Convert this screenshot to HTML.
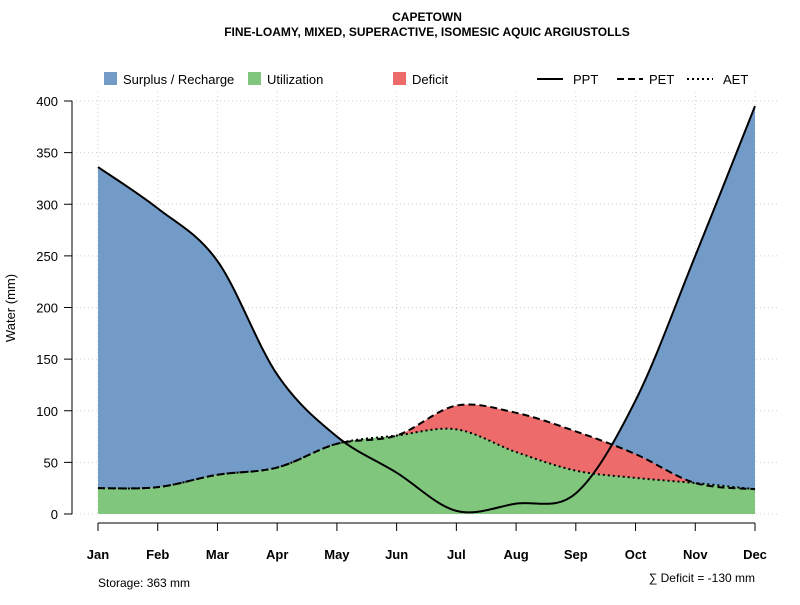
<!DOCTYPE html>
<html><head><meta charset="utf-8"><style>
body{margin:0;background:#fff;font-family:"Liberation Sans",sans-serif;}
svg text{font-family:"Liberation Sans",sans-serif;}
</style></head><body>
<svg id="c" width="800" height="600" xmlns="http://www.w3.org/2000/svg">
<text x="427" y="21" text-anchor="middle" font-size="12" font-weight="bold">CAPETOWN</text>
<text x="427" y="36" text-anchor="middle" font-size="12" font-weight="bold">FINE-LOAMY, MIXED, SUPERACTIVE, ISOMESIC AQUIC ARGIUSTOLLS</text>
<g id="grid"></g>
<g id="areas"></g>
<g id="lines"></g>
<g id="axes"></g>
<g font-size="13">
<rect x="104" y="72" width="13" height="13" fill="#729bc8"/>
<text x="123" y="84">Surplus / Recharge</text>
<rect x="248" y="72" width="13" height="13" fill="#80c67c"/>
<text x="267" y="84">Utilization</text>
<rect x="393" y="72" width="13" height="13" fill="#ed6b6b"/>
<text x="412" y="84">Deficit</text>
<line x1="537" y1="79" x2="563" y2="79" stroke="#000" stroke-width="2"/>
<text x="573" y="84">PPT</text>
<line x1="617" y1="79" x2="643" y2="79" stroke="#000" stroke-width="2" stroke-dasharray="7,4"/>
<text x="649" y="84">PET</text>
<line x1="687" y1="79" x2="713" y2="79" stroke="#000" stroke-width="2" stroke-dasharray="2,3"/>
<text x="723" y="84">AET</text>
</g>
<text x="15" y="308" font-size="13" text-anchor="middle" transform="rotate(-90 15 308)">Water (mm)</text>
<text x="98" y="587" font-size="12">Storage: 363 mm</text>
<text x="755" y="582" font-size="12" text-anchor="end">∑ Deficit = -130 mm</text>
</svg>
<script>
const months=["Jan","Feb","Mar","Apr","May","Jun","Jul","Aug","Sep","Oct","Nov","Dec"];
const ppt=[336,296,245,135,75,40,3,10,20,110,250,395];
const pet=[25,26,38,45,68,76,105,98,80,58,30,24];
const aet=[25,26,38,45,68,76,82,60,42,35,30,24];
const yTicks=[0,50,100,150,200,250,300,350,400];
const NS="http://www.w3.org/2000/svg";
const X=i=>98+i*(755-98)/11;
const Y=v=>514-v*(514-101)/400;
function mk(t,a,p){const e=document.createElementNS(NS,t);for(const k in a)e.setAttribute(k,a[k]);p.appendChild(e);return e;}
function curve(arr){
  const P=arr.map((v,i)=>[X(i),Y(v)]);
  let d="M"+P[0][0]+","+P[0][1];
  for(let i=0;i<P.length-1;i++){
    const p0=P[Math.max(i-1,0)],p1=P[i],p2=P[i+1],p3=P[Math.min(i+2,P.length-1)];
    const c1=[p1[0]+(p2[0]-p0[0])/6,p1[1]+(p2[1]-p0[1])/6];
    const c2=[p2[0]-(p3[0]-p1[0])/6,p2[1]-(p3[1]-p1[1])/6];
    d+=" C"+c1+" "+c2+" "+p2;
  }
  return d;
}
function area(arr){return curve(arr)+" L"+X(11)+","+Y(0)+" L"+X(0)+","+Y(0)+" Z";}
const g=document.getElementById("grid"),ar=document.getElementById("areas"),ln=document.getElementById("lines"),ax=document.getElementById("axes");
months.forEach((m,i)=>{
  const l=mk("line",{x1:X(i),x2:X(i),y1:92,y2:514,stroke:"#d3d3d3","stroke-dasharray":"1,3"},g);
  
  
});
yTicks.forEach(v=>{
  const l=mk("line",{x1:72,x2:780,y1:Y(v),y2:Y(v),stroke:"#d3d3d3","stroke-dasharray":"1,3"},g);
  
  
});
let a=mk("path",{d:area(ppt),fill:"#729bc8"},ar);


a=mk("path",{d:area(pet),fill:"#ed6b6b"},ar);


a=mk("path",{d:area(aet),fill:"#80c67c"},ar);


let l=mk("path",{d:curve(aet),fill:"none",stroke:"#000","stroke-width":2,"stroke-dasharray":"2,3"},ln);


l=mk("path",{d:curve(pet),fill:"none",stroke:"#000","stroke-width":2,"stroke-dasharray":"7,4"},ln);


l=mk("path",{d:curve(ppt),fill:"none",stroke:"#000","stroke-width":2},ln);


// y axis
let e=mk("line",{x1:72,x2:72,y1:Y(0),y2:Y(400),stroke:"#000"},ax);


yTicks.forEach(v=>{
  const t=mk("line",{x1:64,x2:72,y1:Y(v),y2:Y(v),stroke:"#000"},ax);
  
  
  const tx=mk("text",{x:58,y:Y(v)+5,"text-anchor":"end","font-size":"13"},ax);
  tx.textContent=v;
  
  
});
e=mk("line",{x1:X(0),x2:X(11),y1:523,y2:523,stroke:"#000"},ax);


months.forEach((m,i)=>{
  const t=mk("line",{x1:X(i),x2:X(i),y1:523,y2:531,stroke:"#000"},ax);
  
  
  const tx=mk("text",{x:X(i),y:559,"text-anchor":"middle","font-size":"13","font-weight":"bold"},ax);
  tx.textContent=m;
  
  
});
</script>
</body></html>
